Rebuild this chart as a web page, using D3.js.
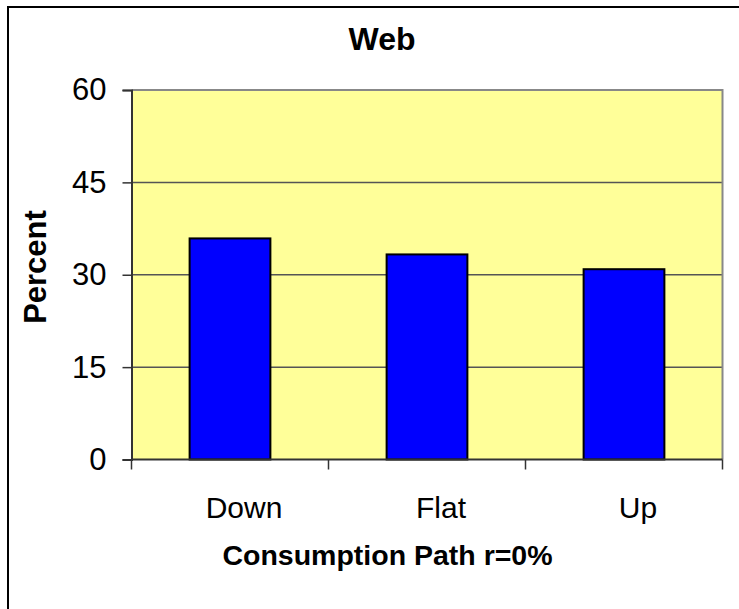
<!DOCTYPE html>
<html>
<head>
<meta charset="utf-8">
<script src="https://cdn.jsdelivr.net/npm/d3@7"></script>
<style>
  html, body { margin: 0; padding: 0; background: #fff; }
  svg { display: block; font-family: "Liberation Sans", Arial, sans-serif; }
</style>
</head>
<body>
<svg id="chart" width="739" height="609"></svg>
<script>
// Share of households by consumption path (web survey, r = 0%)
const categories = ["Down", "Flat", "Up"];
const percentValues = [35.9, 33.3, 30.9];
const yTickValues = [0, 15, 30, 45, 60];
const chartTitle = "Web";
const xAxisTitle = "Consumption Path r=0%";
const yAxisTitle = "Percent";

const svg = d3.select("#chart");
const plot = { left: 131.5, right: 722.5, top: 90, bottom: 459.5 };

// Outer chart frame (left and top edges visible)
svg.append("path")
  .attr("d", "M8,609 V7 H739")
  .attr("fill", "none")
  .attr("stroke", "#000")
  .attr("stroke-width", 2);

const x = d3.scaleBand()
  .domain(categories)
  .range([plot.left, plot.right])
  .paddingInner(0.59)
  .paddingOuter(0.295);

const y = d3.scaleLinear()
  .domain([0, 60])
  .range([plot.bottom, plot.top]);

// Plot background
svg.append("rect")
  .attr("x", plot.left)
  .attr("y", plot.top)
  .attr("width", plot.right - plot.left)
  .attr("height", plot.bottom - plot.top)
  .attr("fill", "#FFFF99");

// Horizontal gridlines
svg.append("g")
  .selectAll("line")
  .data(yTickValues.filter(v => v > 0 && v < 60))
  .join("line")
  .attr("x1", plot.left)
  .attr("x2", plot.right)
  .attr("y1", d => y(d))
  .attr("y2", d => y(d))
  .attr("stroke", "#555")
  .attr("stroke-width", 1.5);

// Plot area border (top and right)
svg.append("path")
  .attr("d", `M${plot.left},${plot.top} H${plot.right} V${plot.bottom}`)
  .attr("fill", "none")
  .attr("stroke", "#888")
  .attr("stroke-width", 2);

// Bars
svg.append("g")
  .selectAll("rect")
  .data(categories.map((c, i) => ({ c, v: percentValues[i] })))
  .join("rect")
  .attr("x", d => x(d.c))
  .attr("y", d => y(d.v))
  .attr("width", x.bandwidth())
  .attr("height", d => y(0) - y(d.v))
  .attr("fill", "#0000FF")
  .attr("stroke", "#000")
  .attr("stroke-width", 2);

// Y axis
const yAxis = svg.append("g")
  .attr("transform", `translate(${plot.left},0)`)
  .call(d3.axisLeft(y).tickValues(yTickValues).tickSize(9).tickPadding(16));
yAxis.select(".domain").attr("stroke", "#333").attr("stroke-width", 2);
yAxis.selectAll(".tick line").attr("stroke", "#333").attr("stroke-width", 1.5);
yAxis.selectAll(".tick text")
  .attr("font-size", 31)
  .attr("fill", "#000")
  .attr("font-family", "Liberation Sans, Arial, sans-serif");

// X axis: ticks sit on category boundaries
const boundaries = [plot.left].concat(categories.map(c => x(c) + x.bandwidth() / 2 + x.step() / 2));
const xAxisG = svg.append("g");
xAxisG.append("line")
  .attr("x1", plot.left).attr("x2", plot.right)
  .attr("y1", plot.bottom).attr("y2", plot.bottom)
  .attr("stroke", "#333").attr("stroke-width", 2);
xAxisG.selectAll("line.tk")
  .data(boundaries)
  .join("line")
  .attr("class", "tk")
  .attr("x1", d => d).attr("x2", d => d)
  .attr("y1", plot.bottom).attr("y2", plot.bottom + 10)
  .attr("stroke", "#333").attr("stroke-width", 1.5);
xAxisG.selectAll("text")
  .data(categories)
  .join("text")
  .attr("x", d => x(d) + x.bandwidth() / 2 + 14)
  .attr("y", 518)
  .attr("text-anchor", "middle")
  .attr("font-size", 30)
  .text(d => d);

// Titles
svg.append("text")
  .attr("x", 382).attr("y", 50)
  .attr("text-anchor", "middle")
  .attr("font-size", 32)
  .attr("font-weight", "bold")
  .text(chartTitle);

svg.append("text")
  .attr("x", 387.5).attr("y", 565)
  .attr("text-anchor", "middle")
  .attr("font-size", 28.5)
  .attr("font-weight", "bold")
  .text(xAxisTitle);

svg.append("text")
  .attr("transform", "translate(46,267) rotate(-90)")
  .attr("text-anchor", "middle")
  .attr("font-size", 31)
  .attr("font-weight", "bold")
  .text(yAxisTitle);
</script>
</body>
</html>
